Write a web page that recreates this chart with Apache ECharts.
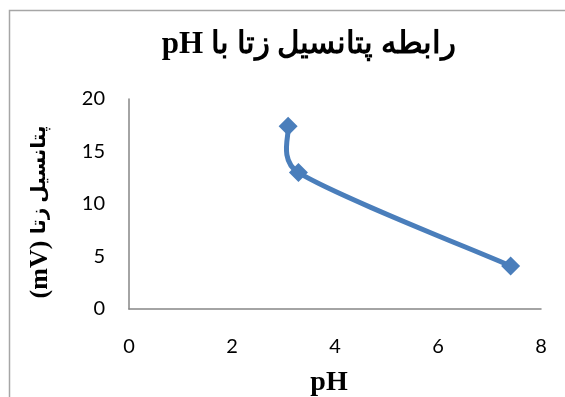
<!DOCTYPE html>
<html>
<head>
<meta charset="utf-8">
<script src="https://cdn.jsdelivr.net/npm/echarts@6/dist/echarts.min.js"></script>
<style>html,body{margin:0;padding:0;background:#fff}#c{width:565px;height:397px}</style>
</head>
<body>
<div id="c"></div>
<script>
const titleText = 'رابطه پتانسیل زتا با pH';
const xName = 'pH';
const yNameArabic = 'پتانسیل زتا';
const yNameUnit = '(mV)';
const phValues = [3.09, 3.29, 7.41];
const zetaValues = [17.4, 13.0, 4.1];
const xTicks = {min: 0, max: 8, interval: 2};
const yTicks = {min: 0, max: 20, interval: 5};

const RLE = '\u202B', PDF = '\u202C';
const rtl = s => RLE + s + PDF;
const LINE_COLOR = '#4A7EBB';

const chart = echarts.init(document.getElementById('c'), null, {renderer: 'canvas'});
const data = phValues.map((x, i) => [x, zetaValues[i]]);
const labelFont = {fontFamily: 'Lato, "Open Sans", sans-serif', fontSize: 20, color: '#000'};

// Excel-style smoothed line (Catmull-Rom bezier with clamped control points)
function smoothPath(pts) {
  if (pts.length < 2) return '';
  const d = (a, b) => Math.hypot(b[0] - a[0], b[1] - a[1]);
  let p = 'M' + pts[0][0] + ' ' + pts[0][1];
  for (let i = 0; i < pts.length - 1; i++) {
    const p0 = pts[Math.max(i - 1, 0)], p1 = pts[i], p2 = pts[i + 1], p3 = pts[Math.min(i + 2, pts.length - 1)];
    const d12 = d(p1, p2), d02 = d(p0, p2), d13 = d(p1, p3);
    let f = 1 / 6, g = 1 / 6;
    if (d02 / 6 >= d12 / 2 && d02 > 0) f = d12 / d02 / 2;
    if (d13 / 6 >= d12 / 2 && d13 > 0) g = d12 / d13 / 2;
    const c1 = [p1[0] + (p2[0] - p0[0]) * f, p1[1] + (p2[1] - p0[1]) * f];
    const c2 = [p2[0] - (p3[0] - p1[0]) * g, p2[1] - (p3[1] - p1[1]) * g];
    p += ' C' + c1[0] + ' ' + c1[1] + ' ' + c2[0] + ' ' + c2[1] + ' ' + p2[0] + ' ' + p2[1];
  }
  return p;
}

chart.setOption({
  animation: false,
  backgroundColor: '#fff',
  graphic: [{
    type: 'rect', left: 7, top: 8, z: -1,
    shape: {width: 600, height: 420},
    style: {fill: 'none', stroke: '#a6a6a6', lineWidth: 1.5}
  }],
  title: {
    text: rtl(titleText), left: 304, top: 24, textAlign: 'center',
    textStyle: {fontFamily: '"Liberation Serif", "DejaVu Serif", serif', fontWeight: 'bold', fontSize: 31, color: '#000'}
  },
  grid: {left: 129, right: 24, top: 99, bottom: 88, containLabel: false, outerBoundsMode: 'none'},
  xAxis: {
    type: 'value', min: xTicks.min, max: xTicks.max, interval: xTicks.interval,
    name: xName, nameLocation: 'middle', nameGap: 60,
    nameTextStyle: {fontFamily: '"Liberation Serif", serif', fontWeight: 'bold', fontSize: 28, color: '#000', padding: [0, 12, 0, 0]},
    axisLine: {lineStyle: {color: '#868686', width: 1.5}},
    axisTick: {show: false},
    splitLine: {show: false},
    axisLabel: Object.assign({margin: 28}, labelFont)
  },
  yAxis: {
    type: 'value', min: yTicks.min, max: yTicks.max, interval: yTicks.interval,
    name: '{u|' + yNameUnit + ' }{a|' + rtl(yNameArabic) + '}',
    nameLocation: 'middle', nameGap: 76, nameRotate: 90,
    nameTextStyle: {
      color: '#000', padding: [0, 16, 0, 0],
      rich: {
        u: {fontFamily: '"Liberation Serif", serif', fontWeight: 'bold', fontSize: 26, color: '#000'},
        a: {fontFamily: '"Liberation Serif", "DejaVu Sans", serif', fontWeight: 'bold', fontSize: 20, color: '#000'}
      }
    },
    axisLine: {show: true, lineStyle: {color: '#868686', width: 1.5}},
    axisTick: {show: false},
    splitLine: {show: false},
    axisLabel: Object.assign({margin: 24}, labelFont)
  },
  series: [{
    type: 'custom',
    data: data,
    encode: {x: 0, y: 1},
    z: 2,
    renderItem: function (params, api) {
      if (params.dataIndex !== 0) return null;
      const pts = data.map(v => api.coord(v));
      return {
        type: 'path',
        shape: {pathData: smoothPath(pts)},
        style: {fill: null, stroke: LINE_COLOR, lineWidth: 5, lineCap: 'round', lineJoin: 'round'}
      };
    }
  }, {
    type: 'scatter', data: data, z: 3,
    symbol: 'diamond', symbolSize: 19,
    itemStyle: {color: LINE_COLOR, opacity: 1}
  }]
});
</script>
</body>
</html>
